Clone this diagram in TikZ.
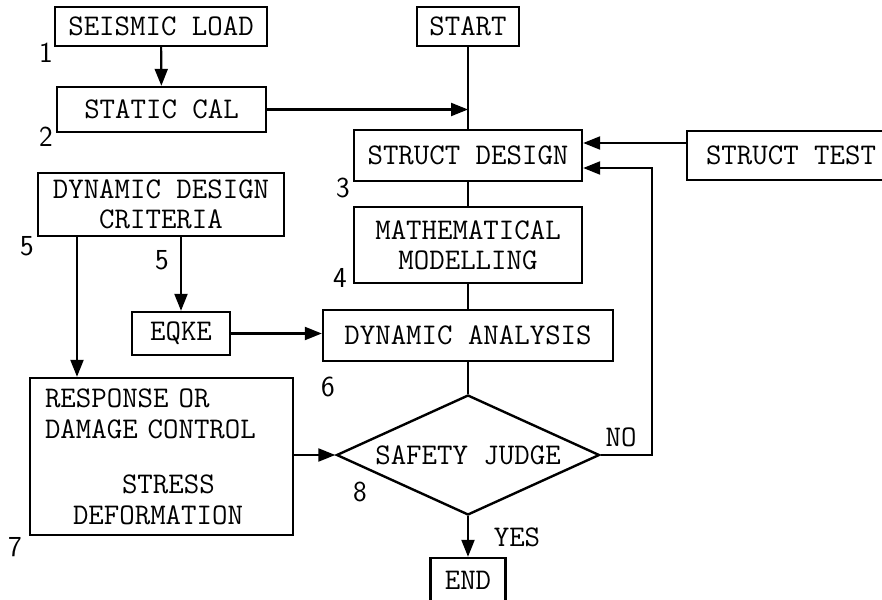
\documentclass[tikz,border=0pt]{standalone}
\usepackage{tikz}
\usetikzlibrary{shapes.geometric, positioning, arrows.meta}
\tikzset{%
  >={Triangle[length=17pt, width=13pt]}, % filled heads as in the sketch
  % plain box with typewriter text
  block/.style={rectangle, draw, line width=2.4pt, inner sep=0pt, align=center,
    font=\fontsize{30}{30}\selectfont\ttfamily},
  % decision diamond, size fixed by hand
  decision/.style={diamond, draw, line width=2.4pt, inner sep=0pt,
    font=\fontsize{30}{30}\selectfont\ttfamily},
  % hand written step numbers
  stepno/.style={font=\fontsize{29}{29}\selectfont\sffamily},
  % yes / no marks
  answer/.style={font=\fontsize{30}{30}\selectfont\ttfamily},
  flow/.style={line width=2.2pt},
}
\begin{document}
\begin{tikzpicture}[x=1pt, y=-1pt]
  \useasboundingbox (0,0) rectangle (882,599);

  % boxes
  \node[block, minimum width=212pt, minimum height=39pt] (seismic) at (161,26.5) {SEISMIC LOAD};
  \node[block, minimum width=209pt, minimum height=45pt] (static) at (161.5,109.5) {STATIC CAL};
  \node[block, minimum width=102pt, minimum height=39pt] (start) at (468,26.5) {START};
  \node[block, minimum width=228pt, minimum height=51pt] (design) at (468,155.5) {STRUCT DESIGN};
  \node[block, minimum width=208pt, minimum height=49pt] (test) at (791,155.5) {STRUCT TEST};
  \node[block, minimum width=228pt, minimum height=76pt] (model) at (468,245) {MATHEMATICAL\\MODELLING};
  \node[block, minimum width=246pt, minimum height=63pt] (criteria) at (161,204.5) {DYNAMIC DESIGN\\CRITERIA};
  \node[block, minimum width=98pt, minimum height=43pt] (eqke) at (181,333.5) {EQKE};
  \node[block, minimum width=290pt, minimum height=51pt] (analysis) at (468,335.5) {DYNAMIC ANALYSIS};
  \node[block, minimum width=263pt, minimum height=157pt, text width=233pt, align=left,
    font=\fontsize{30}{31}\selectfont\ttfamily] (response) at (161.5,456.5)
    {RESPONSE OR\\DAMAGE CONTROL\\[24pt]\hspace*{77pt}STRESS\\\hspace*{28pt}DEFORMATION};
  \node[decision, minimum width=263pt, minimum height=120pt] (judge) at (468,455)
    {\makebox[0pt]{SAFETY JUDGE}};
  \node[block, minimum width=75pt, minimum height=44pt] (end) at (468,580) {END};

  % step numbers
  \node[stepno] (n1) at (46,53) {1};
  \node[stepno] (n2) at (46,137) {2};
  \node[stepno] (n3) at (343,188) {3};
  \node[stepno] (n4) at (340,278) {4};
  \node[stepno] (n5a) at (27,246) {5};
  \node[stepno] (n5b) at (162,260) {5};
  \node[stepno] (n6) at (328,387) {6};
  \node[stepno] (n7) at (15,547) {7};
  \node[stepno] (n8) at (360,492) {8};
  \node[answer] (no) at (621,437) {NO};
  \node[answer] (yes) at (517,537) {YES};

  % connectors
  \draw[flow, ->] (seismic) -- (static);
  \draw[flow] (start) -- (design);
  \draw[flow, ->] (static.east) -- (static.east -| start);
  \draw[flow, ->] ([yshift=12.5pt]test.west) -- ([yshift=12.5pt]design.east);
  \draw[flow] (design) -- (model);
  \draw[flow] (model) -- (analysis);
  \draw[flow, ->] ([xshift=-84pt]criteria.south) -- ([xshift=-84pt]criteria.south |- response.north);
  \draw[flow, ->] (criteria.south -| eqke) -- (eqke);
  \draw[flow, ->] (eqke) -- (eqke -| analysis.west);
  \draw[flow] (analysis) -- (judge.north);
  \draw[flow, ->] (response.east |- judge.west) -- (judge.west);
  \draw[flow, ->] (judge.south) -- (end);
  \coordinate (back) at (652,168);
  \draw[flow, ->] (judge.east) -| (back) -- (back -| design.east);
\end{tikzpicture}
\end{document}
